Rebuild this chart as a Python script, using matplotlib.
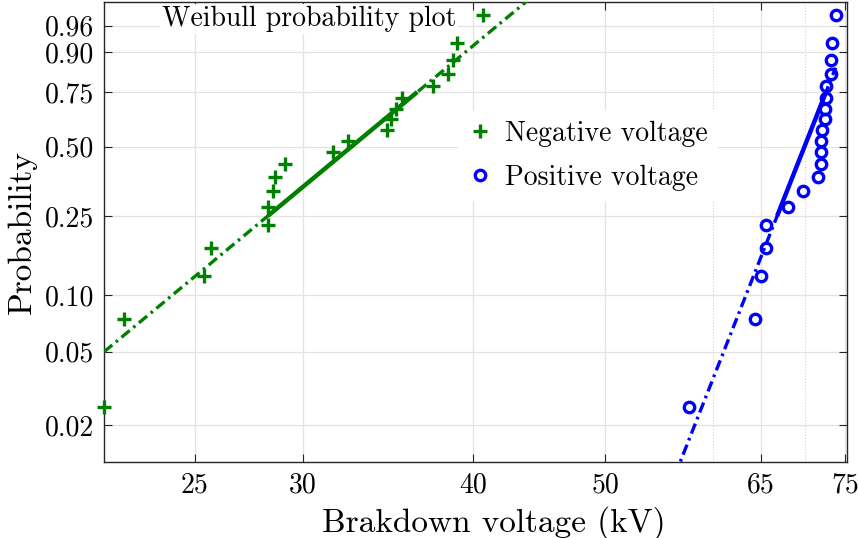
import numpy as np
import matplotlib
matplotlib.use("Agg")
import matplotlib.pyplot as plt
from matplotlib.ticker import FixedLocator, FixedFormatter, NullFormatter

# breakdown voltages (kV), sorted
neg_kv = [21.44, 22.18, 25.39, 25.68, 28.28, 28.28, 28.52, 28.62, 29.10, 31.55,
          32.36, 34.56, 34.79, 35.08, 35.44, 37.35, 38.31, 38.63, 38.89, 40.65]
pos_kv = [57.55, 64.40, 65.01, 65.57, 65.57, 68.11, 69.83, 71.65, 71.94, 71.94,
          71.94, 72.13, 72.42, 72.42, 72.55, 72.62, 73.16, 73.16, 73.36, 73.77]

x_ticks = [25, 30, 40, 50, 65, 75]
x_minor = [60, 70]
p_ticks = [0.02, 0.05, 0.10, 0.25, 0.50, 0.75, 0.90, 0.96]
p_labels = ['0.02', '0.05', '0.10', '0.25', '0.50', '0.75', '0.90', '0.96']

green = '#008000'
blue = '#0000ff'

plt.rcParams['font.family'] = 'serif'
plt.rcParams['font.serif'] = ['cmr10']
plt.rcParams['mathtext.fontset'] = 'cm'
plt.rcParams['axes.unicode_minus'] = False


def wfwd(p):
    p = np.clip(np.asarray(p, dtype=float), 1e-9, 1 - 1e-9)
    return np.log(-np.log(1 - p))


def winv(y):
    return 1 - np.exp(-np.exp(np.asarray(y, dtype=float)))


def ref_line(kv, xlo, xhi):
    # line through 1st and 3rd quartiles, as in a probability plot
    n = len(kv)
    pp = (np.arange(1, n + 1) - 0.5) / n
    q1 = np.interp(0.25, pp, kv)
    q3 = np.interp(0.75, pp, kv)
    y1, y3 = wfwd(0.25), wfwd(0.75)
    slope = (y3 - y1) / (np.log(q3) - np.log(q1))
    xs = np.exp(np.linspace(np.log(xlo), np.log(xhi), 200))
    ext = winv(y1 + slope * (np.log(xs) - np.log(q1)))
    xm = np.exp(np.linspace(np.log(q1), np.log(q3), 50))
    mid = winv(y1 + slope * (np.log(xm) - np.log(q1)))
    return xs, ext, xm, mid


fig = plt.figure(figsize=(8.59, 5.38), dpi=100)
ax = fig.add_axes([0.1211, 0.1413, 0.8649, 0.855])
ax.set_xscale('log')
ax.set_yscale('function', functions=(wfwd, winv))

xlo, xhi = 21.44, 75.2
ylo, yhi = 0.01256, 0.98705

n = len(neg_kv)
probs = (np.arange(1, n + 1) - 0.5) / n

for kv, col, hi in [(neg_kv, green, xhi), (pos_kv, blue, max(pos_kv))]:
    xs, ext, xm, mid = ref_line(kv, xlo, hi)
    ax.plot(xs, ext, color=col, lw=2.4, ls=(0, (3.2, 1.4, 0.8, 1.4)), zorder=3)
    ax.plot(xm, mid, color=col, lw=3.2, zorder=3, solid_capstyle='butt')

ax.plot(neg_kv, probs, ls='none', marker='+', ms=10, mew=2.4, color=green,
        label='Negative voltage', zorder=4, clip_on=False)
ax.plot(pos_kv, probs, ls='none', marker='o', ms=7.5, mew=2.4, mfc='none', mec=blue,
        label='Positive voltage', zorder=4, clip_on=False)

ax.set_xlim(xlo, xhi)
ax.set_ylim(ylo, yhi)

ax.xaxis.set_major_locator(FixedLocator(x_ticks))
ax.xaxis.set_major_formatter(FixedFormatter([str(v) for v in x_ticks]))
ax.xaxis.set_minor_locator(FixedLocator(x_minor))
ax.xaxis.set_minor_formatter(NullFormatter())
ax.yaxis.set_major_locator(FixedLocator(p_ticks))
ax.yaxis.set_major_formatter(FixedFormatter(p_labels))
ax.yaxis.set_minor_locator(FixedLocator([]))

ax.grid(True, which='major', color='#e3e3e3', lw=0.9)
ax.grid(True, which='minor', axis='x', color='#d0d0d0', lw=0.8, ls=':')
ax.set_axisbelow(True)

ax.tick_params(which='major', direction='in', length=6, width=0.8, top=True, right=True,
               labelsize=20, color='#262626', pad=7)
ax.tick_params(which='minor', length=0, top=True, right=True)
for s in ax.spines.values():
    s.set_color('#262626')
    s.set_linewidth(1.0)

ax.set_xlabel('Brakdown voltage (kV)', fontsize=24)
ax.xaxis.set_label_coords(0.525, -0.095)
ax.set_ylabel('Probability', fontsize=24, labelpad=6)

ax.text(0.078, 0.963, 'Weibull probability plot', transform=ax.transAxes, fontsize=20,
        ha='left', va='center', zorder=5,
        bbox=dict(facecolor='white', edgecolor='none', pad=1.5))

leg = ax.legend(loc='upper left', bbox_to_anchor=(0.4764, 0.7635), fontsize=20,
                frameon=True, fancybox=False, framealpha=1, edgecolor='none',
                borderaxespad=0, handlelength=0.9, handletextpad=0.45,
                labelspacing=0.64, borderpad=0.35)
leg.set_zorder(6)

fig.savefig('out.png', dpi=100)
